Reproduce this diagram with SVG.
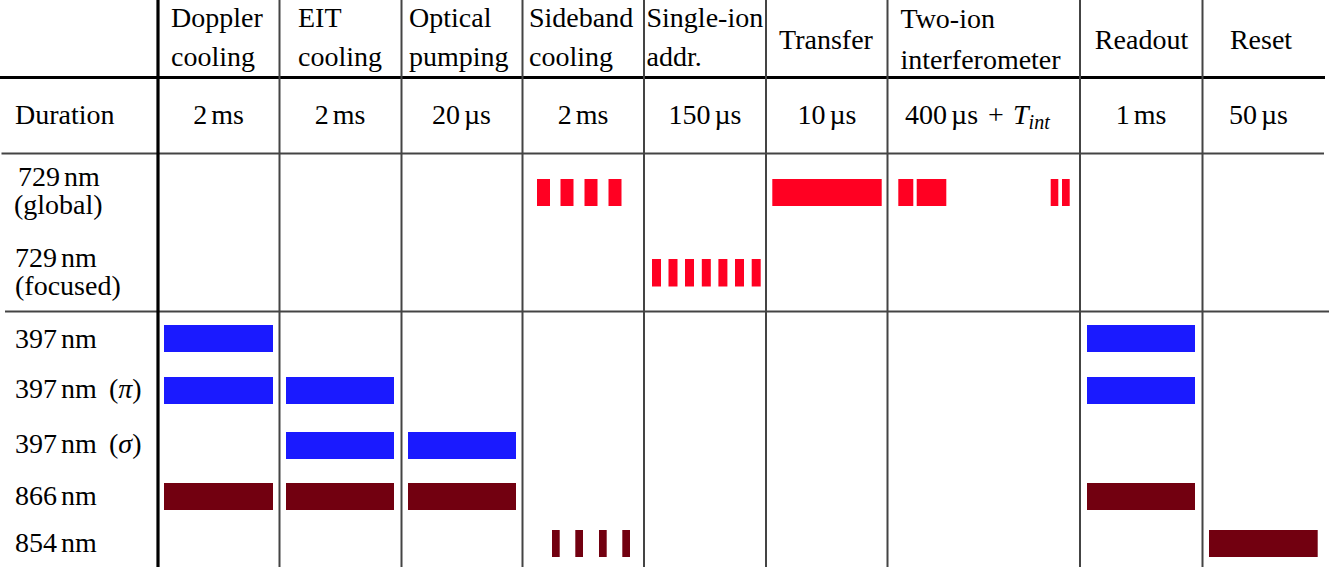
<svg xmlns="http://www.w3.org/2000/svg" width="1329" height="567" viewBox="0 0 1329 567">
<style>
text{font-family:"Liberation Serif","Times New Roman",serif;font-size:28px;fill:#000}
.c{text-anchor:middle}
.u{word-spacing:-3px}
.thin{stroke:#444;stroke-width:2;fill:none}
.thick{stroke:#000;stroke-width:3.2;fill:none}
.r{fill:#FF0022}
.b{fill:#1A1AFF}
.m{fill:#720010}
</style>
<rect width="1329" height="567" fill="#fff"/>
<g id="connectors">
<line class="thick" x1="0" y1="77.5" x2="1325" y2="77.5"/>
<line class="thin" x1="1.5" y1="153.5" x2="1324" y2="153.5"/>
<line class="thin" x1="5" y1="311.5" x2="1329" y2="311.5"/>
<line class="thick" x1="158" y1="0" x2="158" y2="567"/>
<line class="thin" x1="279.5" y1="0" x2="279.5" y2="567"/>
<line class="thin" x1="401.5" y1="0" x2="401.5" y2="567"/>
<line class="thin" x1="522.5" y1="0" x2="522.5" y2="567"/>
<line class="thin" x1="644" y1="0" x2="644" y2="567"/>
<line class="thin" x1="766" y1="0" x2="766" y2="567"/>
<line class="thin" x1="887.5" y1="0" x2="887.5" y2="567"/>
<line class="thin" x1="1080" y1="0" x2="1080" y2="567"/>
<line class="thin" x1="1202.5" y1="0" x2="1202.5" y2="567"/>
</g>
<g id="row-labels">
<text x="15" y="124">Duration</text>
<text class="u" x="18" y="186">729 nm</text>
<text x="14" y="214">(global)</text>
<text class="u" x="15" y="267">729 nm</text>
<text x="15" y="295">(focused)</text>
<text class="u" x="15" y="348">397 nm</text>
<text class="u" x="15" y="398">397 nm<tspan x="109">(<tspan font-style="italic">π</tspan>)</tspan></text>
<text class="u" x="15" y="453">397 nm<tspan x="109">(<tspan font-style="italic">σ</tspan>)</tspan></text>
<text class="u" x="15" y="505">866 nm</text>
<text class="u" x="15" y="552">854 nm</text>
</g>
<g id="col-doppler">
<text x="171" y="27">Doppler</text>
<text x="171" y="66">cooling</text>
<text class="c u" x="218.5" y="124">2 ms</text>
<rect class="b" x="164" y="325" width="109" height="27"/>
<rect class="b" x="164" y="377" width="109" height="27"/>
<rect class="m" x="164" y="483" width="109" height="27"/>
</g>
<g id="col-eit">
<text x="298" y="27">EIT</text>
<text x="298" y="66">cooling</text>
<text class="c u" x="340" y="124">2 ms</text>
<rect class="b" x="286" y="377" width="108" height="27"/>
<rect class="b" x="286" y="432" width="108" height="27"/>
<rect class="m" x="286" y="483" width="108" height="27"/>
</g>
<g id="col-optical">
<text x="409" y="27">Optical</text>
<text x="409" y="66">pumping</text>
<text class="c u" x="461.5" y="124">20 µs</text>
<rect class="b" x="408" y="432" width="108" height="27"/>
<rect class="m" x="408" y="483" width="108" height="27"/>
</g>
<g id="col-sideband">
<text x="529" y="27">Sideband</text>
<text x="529" y="66">cooling</text>
<text class="c u" x="583" y="124">2 ms</text>
<rect class="r" x="537" y="179" width="13" height="27"/>
<rect class="r" x="560.5" y="179" width="13" height="27"/>
<rect class="r" x="584.5" y="179" width="13" height="27"/>
<rect class="r" x="608.5" y="179" width="13" height="27"/>
<rect class="m" x="552" y="530" width="7.7" height="27"/>
<rect class="m" x="575.3" y="530" width="7.7" height="27"/>
<rect class="m" x="599" y="530" width="7.7" height="27"/>
<rect class="m" x="622.3" y="530" width="7.7" height="27"/>
</g>
<g id="col-single-ion">
<text x="646.5" y="27">Single-ion</text>
<text x="646.5" y="66">addr.</text>
<text class="c u" x="705" y="124">150 µs</text>
<rect class="r" x="652" y="259" width="9" height="27.5"/>
<rect class="r" x="668.5" y="259" width="9" height="27.5"/>
<rect class="r" x="685" y="259" width="9" height="27.5"/>
<rect class="r" x="701.8" y="259" width="9" height="27.5"/>
<rect class="r" x="718.4" y="259" width="9" height="27.5"/>
<rect class="r" x="735" y="259" width="9" height="27.5"/>
<rect class="r" x="751.7" y="259" width="9" height="27.5"/>
</g>
<g id="col-transfer">
<text class="c" x="826" y="49">Transfer</text>
<text class="c u" x="827" y="124">10 µs</text>
<rect class="r" x="772.3" y="179" width="109.4" height="27"/>
</g>
<g id="col-interferometer">
<text x="900.5" y="28">Two-ion</text>
<text x="900.5" y="69">interferometer</text>
<text x="905" y="124"><tspan word-spacing="-3px">400 µs</tspan><tspan x="988">+</tspan><tspan x="1013" font-style="italic">T</tspan><tspan font-style="italic" font-size="20" dy="5">int</tspan></text>
<rect class="r" x="898.3" y="179" width="15" height="27"/>
<rect class="r" x="916.7" y="179" width="29.6" height="27"/>
<rect class="r" x="1050.7" y="179" width="7.6" height="27"/>
<rect class="r" x="1062" y="179" width="7.7" height="27"/>
</g>
<g id="col-readout">
<text class="c" x="1141.5" y="49">Readout</text>
<text class="c u" x="1141" y="124">1 ms</text>
<rect class="b" x="1087" y="325" width="108" height="27"/>
<rect class="b" x="1087" y="377" width="108" height="27"/>
<rect class="m" x="1087" y="483" width="108" height="27"/>
</g>
<g id="col-reset">
<text class="c" x="1261" y="49">Reset</text>
<text class="c u" x="1258.5" y="124">50 µs</text>
<rect class="m" x="1209" y="530" width="108.7" height="27"/>
</g>
</svg>
